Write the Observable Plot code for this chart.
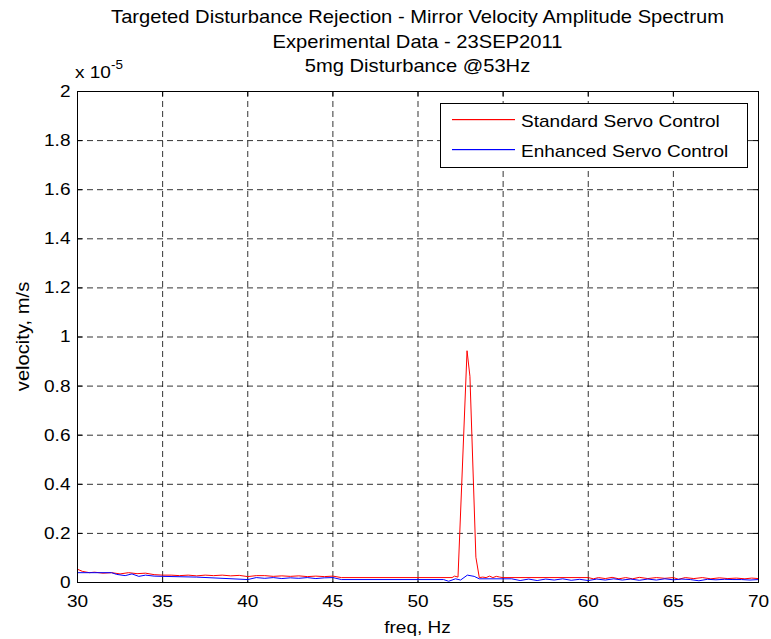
<!DOCTYPE html>
<html><head><meta charset="utf-8">
<script src="https://cdn.jsdelivr.net/npm/d3@7"></script>
<script src="https://cdn.jsdelivr.net/npm/@observablehq/plot@0.6"></script>
<style>body{margin:0;background:#fff}svg{font-family:"Liberation Sans",Arial,sans-serif}</style>
</head><body><div id="chart"></div>
<script>
// values in units of 1e-5 m/s
const stdFreq = [30,30.3,30.7,31,31.5,32,32.5,33,33.5,34,34.5,35,35.5,36,36.5,37,37.5,38,38.5,39,39.5,40,40.5,41,41.5,42,42.5,43,43.5,44,44.5,45,45.5,52,52.15,52.35,52.88,53.05,53.4,53.6,53.8,54,54.2,54.4,54.6,54.8,55,60,60.3,60.6,61,61.4,61.8,62.2,62.6,63,63.5,64,64.5,65,65.3,65.7,66.2,66.7,67.2,67.7,68.2,68.7,69.2,69.6,70];
const stdVel = [0.054,0.045,0.04,0.042,0.038,0.04,0.035,0.04,0.036,0.038,0.032,0.03,0.03,0.028,0.03,0.027,0.03,0.028,0.03,0.027,0.029,0.024,0.028,0.028,0.025,0.027,0.025,0.027,0.024,0.026,0.024,0.026,0.02,0.02,0.026,0.022,0.944,0.84,0.103,0.02,0.022,0.02,0.026,0.02,0.025,0.022,0.02,0.02,0.015,0.02,0.016,0.021,0.015,0.02,0.015,0.021,0.016,0.02,0.017,0.02,0.013,0.02,0.016,0.02,0.015,0.019,0.016,0.018,0.015,0.018,0.016];
const enhFreq = [30,32,32.3,32.8,33.2,33.6,34,34.5,35,37,40,40.5,41,41.5,42,42.5,43,43.5,44,44.5,45,45.5,51.5,51.8,52.2,52.5,52.9,53.3,53.6,55,55.5,56,56.5,57,57.5,58,58.5,59,59.5,60,60.5,61,61.5,62,62.5,63,63.5,64,64.5,65,65.5,66,66.5,67,67.5,68,68.5,69,69.5,70];
const enhVel = [0.04,0.04,0.033,0.028,0.035,0.025,0.03,0.026,0.025,0.022,0.012,0.02,0.017,0.02,0.016,0.019,0.017,0.02,0.016,0.019,0.02,0.012,0.012,0.005,0.015,0.01,0.03,0.025,0.015,0.015,0.015,0.008,0.014,0.008,0.014,0.01,0.015,0.009,0.013,0.008,0.014,0.01,0.015,0.01,0.014,0.009,0.014,0.01,0.015,0.011,0.014,0.012,0.007,0.013,0.011,0.013,0.012,0.012,0.01,0.012];
const xTicks = [30,35,40,45,50,55,60,65,70];
const yTicks = [0,0.2,0.4,0.6,0.8,1,1.2,1.4,1.6,1.8,2];
const titles = ["Targeted Disturbance Rejection - Mirror Velocity Amplitude Spectrum","Experimental Data - 23SEP2011","5mg Disturbance @53Hz"];
const xLabel = "freq, Hz";
const yLabel = "velocity, m/s";
const seriesNames = ["Standard Servo Control","Enhanced Servo Control"];
const seriesColors = ["#ff0000","#0000ff"];

const std = stdFreq.map((f,i)=>({f, v: stdVel[i]}));
const enh = enhFreq.map((f,i)=>({f, v: enhVel[i]}));
const W = 771, H = 639, mL = 77, mR = 13, mT = 91, mB = 57;
const tk = 5;
const xPer = (70-30)/(W-mL-mR), yPer = 2/(H-mT-mB);
const FS = 17, STRETCH = 1.12;
const fmt = d => String(+d.toFixed(1));

const plot = Plot.plot({
  width: W, height: H,
  marginLeft: mL, marginRight: mR, marginTop: mT, marginBottom: mB,
  style: {fontSize: FS + "px", fontFamily: "'Liberation Sans', Arial, sans-serif", color: "#000"},
  x: {domain: [30,70], label: null},
  y: {domain: [0,2], label: null},
  marks: [
    Plot.ruleX(xTicks.slice(1,-1), {stroke: "#000", strokeOpacity: 0.8, strokeDasharray: "6,4"}),
    Plot.ruleY(yTicks.slice(1,-1), {stroke: "#000", strokeOpacity: 0.8, strokeDasharray: "6,4"}),
    Plot.ruleX(xTicks, {y1: 0, y2: tk*yPer, stroke: "#000"}),
    Plot.ruleX(xTicks, {y1: 2, y2: 2 - tk*yPer, stroke: "#000"}),
    Plot.ruleY(yTicks, {x1: 30, x2: 30 + tk*xPer, stroke: "#000"}),
    Plot.ruleY(yTicks, {x1: 70, x2: 70 - tk*xPer, stroke: "#000"}),
    Plot.line(std, {x: "f", y: "v", stroke: seriesColors[0], strokeWidth: 1}),
    Plot.line(enh, {x: "f", y: "v", stroke: seriesColors[1], strokeWidth: 1}),
    Plot.frame({stroke: "#000"}),
    Plot.axisX({ticks: xTicks, tickSize: 0, tickPadding: 12, label: null, tickFormat: fmt}),
    Plot.axisY({ticks: yTicks, tickSize: 0, tickPadding: 7, label: null, tickFormat: fmt})
  ]
});
document.getElementById("chart").appendChild(plot);
const svg = d3.select(plot);
// widen all Plot-generated glyphs slightly (MATLAB Helvetica rendering)
svg.selectAll("text").each(function(){
  const t = this.getAttribute("transform") || "";
  this.setAttribute("transform", (t + ` scale(${STRETCH},1)`).trim());
});
function addText(x, y, str, opts = {}) {
  const el = svg.append("text")
    .attr("transform", `translate(${x},${y})${opts.rotate ? ` rotate(${opts.rotate})` : ""} scale(${STRETCH},1)`)
    .attr("text-anchor", opts.anchor || "start")
    .attr("font-size", opts.size || FS).style("fill", "#000");
  el.text(str);
  return el;
}
const cx = mL + (W - mL - mR)/2;
titles.forEach((t,i)=> addText(cx, 23 + i*24.5, t, {anchor: "middle", size: 18}));
const ex = addText(75, 78, "", {size: FS});
ex.append("tspan").text("x 10");
ex.append("tspan").attr("dy", -9).attr("font-size", 12).text("-5");
addText(cx, 633, xLabel, {anchor: "middle", size: FS});
addText(29, mT + (H-mT-mB)/2, yLabel, {anchor: "middle", rotate: -90, size: 18});
// legend
const lg = svg.append("g");
lg.append("rect").attr("x", 440.5).attr("y", 103.5).attr("width", 307).attr("height", 64)
  .style("fill","#fff").style("stroke","#000").style("stroke-width", 1);
seriesNames.forEach((n,i)=>{
  const y = 119 + i*30;
  lg.append("rect").attr("x",452).attr("y",y).attr("width",63).attr("height",1.2)
    .style("fill", seriesColors[i]).style("stroke", "none");
  addText(521, y + 7.5, n, {size: FS});
});
</script></body></html>
